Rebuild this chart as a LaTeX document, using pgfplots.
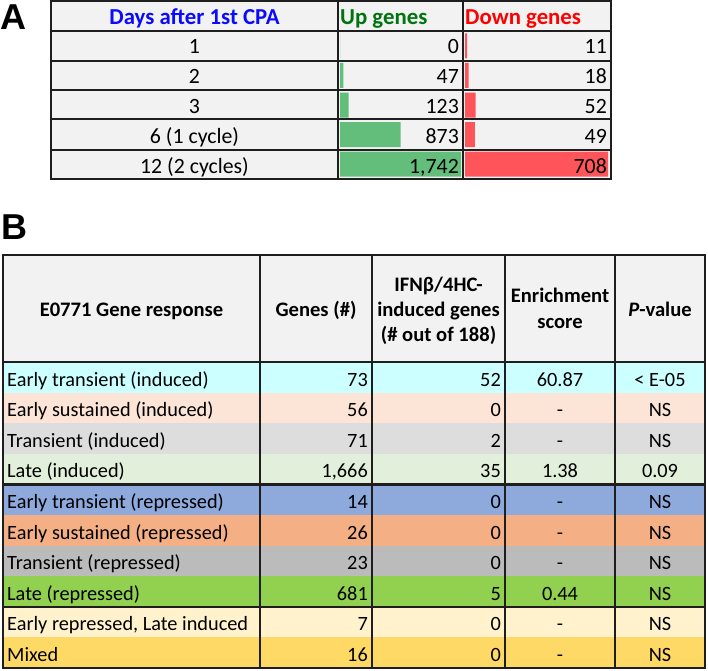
\documentclass[border=0pt]{standalone}
\usepackage{pgfplots}
\pgfplotsset{compat=1.18}
\usepackage{fontspec}
\setmainfont{Carlito}
\newfontfamily\arialf{Liberation Sans}

\definecolor{cellgray}{HTML}{F2F2F2}
\definecolor{upbar}{HTML}{63BE7B}
\definecolor{downbar}{HTML}{FF555A}
\definecolor{hdrblue}{HTML}{0A0AFF}
\definecolor{hdrgreen}{HTML}{00740F}
\definecolor{hdrred}{HTML}{FF0000}
\definecolor{rule}{HTML}{1E1E1E}
\definecolor{rA}{HTML}{CCFFFF}
\definecolor{rB}{HTML}{FCE4D6}
\definecolor{rC}{HTML}{DDDDDD}
\definecolor{rD}{HTML}{E2EFDA}
\definecolor{rE}{HTML}{8EA9DB}
\definecolor{rF}{HTML}{F4B084}
\definecolor{rG}{HTML}{BBBBBB}
\definecolor{rH}{HTML}{92D050}
\definecolor{rI}{HTML}{FFF2CC}
\definecolor{rJ}{HTML}{FFD966}

\newcommand\fah{\fontsize{22.8}{26}\selectfont}
\newcommand\fa{\fontsize{21.8}{26}\selectfont}
\newcommand\fbh{\fontsize{20.6}{24}\selectfont}
\newcommand\fb{\fontsize{20.3}{24}\selectfont}

\begin{document}
\begin{tikzpicture}[x=1pt,y=-1pt]
\path (0,0) rectangle (708,670);

% ---------- panel A ----------
\node[anchor=base west,inner sep=0,font=\fontsize{36}{36}\selectfont\arialf\bfseries] at (0,29) {A};
\fill[cellgray] (51,1) rectangle (611,179);

% data bars, one axis per column
\begin{axis}[at={(340pt,-31pt)},anchor=north west,scale only axis,
  width=121pt,height=148pt,xmin=0,xmax=1742,ymin=0.5,ymax=5.5,
  y dir=reverse,hide axis,xbar,bar width=25pt,clip=false]
\addplot[fill=upbar,draw=none] coordinates {(0,1) (47,2) (123,3) (873,4) (1742,5)};
\end{axis}
\begin{axis}[at={(465pt,-31pt)},anchor=north west,scale only axis,
  width=143pt,height=148pt,xmin=0,xmax=708,ymin=0.5,ymax=5.5,
  y dir=reverse,hide axis,xbar,bar width=25pt,clip=false]
\addplot[fill=downbar,draw=none] coordinates {(11,1) (18,2) (52,3) (49,4) (708,5)};
\end{axis}

\foreach \y in {31,61,90,119,150} \draw[rule,line width=1.6pt] (51,\y) -- (611,\y);
\foreach \x in {338,463} \draw[rule,line width=1.6pt] (\x,1) -- (\x,179);
\draw[rule,line width=2pt] (51,1) rectangle (611,179);

\node[anchor=base,inner sep=0,font=\fah\bfseries,text=hdrblue] at (194.5,24) {Days after 1st CPA};
\node[anchor=base west,inner sep=0,font=\fah\bfseries,text=hdrgreen] at (340,24) {Up genes};
\node[anchor=base west,inner sep=0,font=\fah\bfseries,text=hdrred] at (465,24) {Down genes};
\foreach \b/\d/\u/\w in {53.5/1/0/11, 83.3/2/47/18, 113.3/3/123/52, 143.3/6 (1 cycle)/873/49, 173.3/12 (2 cycles)/{1,742}/708}{
  \node[anchor=base,inner sep=0,font=\fa] at (194.5,\b) {\d};
  \node[anchor=base east,inner sep=0,font=\fa] at (459,\b) {\u};
  \node[anchor=base east,inner sep=0,font=\fa] at (607,\b) {\w};
}

% ---------- panel B ----------
\node[anchor=base west,inner sep=0,font=\fontsize{36}{36}\selectfont\arialf\bfseries] at (1,239) {B};
\fill[cellgray] (3,255) rectangle (705,362);
\foreach \c [count=\i from 0] in {rA,rB,rC,rD,rE,rF,rG,rH,rI,rJ}
  \fill[\c] (3,{362+30.6*\i}) rectangle (705,{362+30.6*(\i+1)});

\foreach \x in {260,372,505,615} \draw[rule,line width=1.4pt] (\x,255) -- (\x,668);
\draw[rule,line width=1.6pt] (3,362) -- (705,362);
\draw[rule,line width=2.4pt] (3,484.4) -- (705,484.4);
\draw[rule,line width=2.4pt] (3,606.8) -- (705,606.8);
\draw[rule,line width=2pt] (3,255) rectangle (705,668);

\node[anchor=base,inner sep=0,font=\fbh\bfseries] at (131.5,316) {E0771 Gene response};
\node[anchor=base,inner sep=0,font=\fbh\bfseries] at (316,316) {Genes (\#)};
\node[anchor=base,inner sep=0,font=\fbh\bfseries] at (438.5,291.7) {IFNβ/4HC-};
\node[anchor=base,inner sep=0,font=\fbh\bfseries] at (438.5,316.7) {induced genes};
\node[anchor=base,inner sep=0,font=\fbh\bfseries] at (438.5,341.7) {(\# out of 188)};
\node[anchor=base,inner sep=0,font=\fbh\bfseries] at (560,302.7) {Enrichment};
\node[anchor=base,inner sep=0,font=\fbh\bfseries] at (560,328.3) {score};
\node[anchor=base,inner sep=0,font=\fbh\bfseries] at (660,316.7) {\textit{P}-value};

\foreach \n/\g/\f/\e/\p [count=\i from 0] in {
  Early transient (induced)/73/52/60.87/< E-05,
  Early sustained (induced)/56/0/-/NS,
  Transient (induced)/71/2/-/NS,
  Late (induced)/{1,666}/35/1.38/0.09,
  Early transient (repressed)/14/0/-/NS,
  Early sustained (repressed)/26/0/-/NS,
  Transient (repressed)/23/0/-/NS,
  Late (repressed)/681/5/0.44/NS,
  {Early repressed, Late induced}/7/0/-/NS,
  Mixed/16/0/-/NS}{
  \node[anchor=base west,inner sep=0,font=\fb] at (7,{386+30.6*\i}) {\n};
  \node[anchor=base east,inner sep=0,font=\fb] at (368,{386+30.6*\i}) {\g};
  \node[anchor=base east,inner sep=0,font=\fb] at (501,{386+30.6*\i}) {\f};
  \node[anchor=base,inner sep=0,font=\fb] at (560,{386+30.6*\i}) {\e};
  \node[anchor=base,inner sep=0,font=\fb] at (660,{386+30.6*\i}) {\p};
}
\end{tikzpicture}
\end{document}
